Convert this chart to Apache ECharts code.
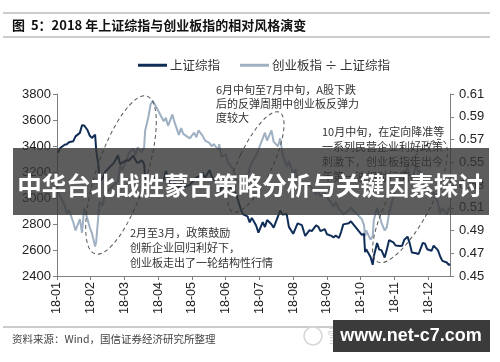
<!DOCTYPE html>
<html>
<head>
<meta charset="utf-8">
<script src="https://cdn.jsdelivr.net/npm/echarts@6/dist/echarts.min.js"></script>
<style>
html,body{margin:0;padding:0;background:#fff;}
#c{width:500px;height:362px;}
</style>
</head>
<body>
<div id="c"></div>
<script>
// ---- data (2018) ----
var dates = [
 '01-02','01-04','01-08','01-10','01-12','01-16','01-18','01-22','01-24','01-26','01-29','01-31',
 '02-02','02-05','02-06','02-07','02-08','02-09','02-12','02-14','02-22','02-26','02-28',
 '03-02','03-06','03-08','03-12','03-14','03-16','03-20','03-22','03-23','03-26','03-28','03-30',
 '04-03','04-09','04-11','04-13','04-17','04-19','04-23','04-25','04-27',
 '05-03','05-07','05-09','05-11','05-15','05-17','05-21','05-23','05-25','05-29','05-30',
 '06-01','06-05','06-07','06-11','06-13','06-15','06-19','06-21','06-25','06-27','06-29',
 '07-03','07-05','07-09','07-11','07-13','07-17','07-19','07-23','07-25','07-27','07-31',
 '08-02','08-06','08-08','08-10','08-14','08-16','08-17','08-21','08-23','08-27','08-29','08-31',
 '09-04','09-06','09-10','09-12','09-14','09-17','09-19','09-21','09-26','09-28',
 '10-08','10-10','10-11','10-12','10-16','10-18','10-19','10-22','10-24','10-26','10-29','10-31',
 '11-02','11-06','11-08','11-12','11-14','11-16','11-19','11-21','11-23','11-27','11-29','11-30',
 '12-03','12-05','12-07','12-11','12-13','12-17','12-19','12-21','12-25','12-27','12-28'
];
var shIndex = [
 3349,3385,3410,3414,3429,3437,3474,3501,3559,3558,3523,3481,
 3462,3487,3370,3309,3262,3129,3154,3199,3268,3329,3259,
 3273,3290,3288,3326,3292,3269,3290,3263,3153,3133,3122,3169,
 3137,3138,3208,3159,3067,3117,3069,3118,3082,
 3101,3137,3159,3163,3193,3154,3214,3169,3141,3120,3041,
 3075,3114,3109,3052,3049,3021,2908,2875,2859,2813,2847,
 2786,2733,2815,2777,2831,2798,2772,2859,2903,2873,2876,
 2778,2725,2764,2805,2791,2735,2709,2753,2745,2790,2779,2745,
 2761,2721,2709,2696,2712,2692,2740,2797,2806,2821,
 2716,2725,2583,2606,2546,2486,2550,2654,2603,2599,2542,2603,
 2676,2659,2635,2630,2632,2679,2703,2651,2580,2575,2568,2588,
 2655,2649,2606,2594,2634,2597,2550,2516,2504,2483,2493
];
var ratio = [
 .525,.52,.512,.505,.508,.497,.49,.50,.488,.51,.50,.493,
 .488,.476,.48,.492,.503,.515,.512,.522,.53,.533,.547,
 .543,.552,.558,.562,.556,.563,.559,.563,.578,.59,.601,.604,
 .597,.586,.589,.582,.592,.585,.574,.58,.575,
 .571,.576,.572,.578,.573,.569,.567,.564,.566,.561,.566,
 .555,.557,.55,.545,.54,.535,.53,.527,.535,.545,.55,
 .556,.561,.571,.576,.569,.578,.568,.564,.571,.558,.546,
 .551,.54,.544,.535,.533,.53,.527,.531,.527,.522,.525,.52,
 .523,.519,.514,.511,.515,.509,.507,.504,.508,.51,
 .50,.495,.485,.49,.482,.485,.499,.51,.504,.497,.49,.493,
 .505,.52,.529,.535,.531,.54,.545,.539,.534,.548,.54,.543,
 .535,.529,.524,.519,.524,.514,.505,.51,.504,.51,.508
];
var leftTicks = {min: 2400, max: 3800, interval: 200};
var rightTicks = {min: 0.45, max: 0.61, interval: 0.02};
var seriesNames = ['上证综指', '创业板指 ÷ 上证综指'];

// ---- helpers ----
var DAY = 86400000, BASE = Date.UTC(2018, 0, 1);
function dayOf(s) {
  var p = s.split('-');
  return (Date.UTC(2018, +p[0] - 1, +p[1]) - BASE) / DAY;
}
var shData = dates.map(function (d, i) { return [dayOf(d), shIndex[i]]; });
var rtData = dates.map(function (d, i) { return [dayOf(d), ratio[i]]; });

var CJK = '"Noto Sans CJK SC", sans-serif';
var AX = '#808080';

var chart = echarts.init(document.getElementById('c'), null, {renderer: 'canvas'});
chart.setOption({
  animation: false,
  backgroundColor: '#fff',
  grid: {left: 57, right: 50, top: 94, bottom: 86},
  legend: {
    left: 133, top: 54, itemWidth: 29, itemHeight: 3, itemGap: 20,
    icon: 'rect',
    data: seriesNames,
    textStyle: {fontSize: 12.5, color: '#333', fontFamily: CJK, padding: [0, 0, 0, -2]}
  },
  xAxis: {
    type: 'value', min: 0, max: 361, interval: 31,
    axisLine: {show: true, lineStyle: {color: AX}},
    axisTick: {show: true, length: 4, lineStyle: {color: AX}},
    splitLine: {show: false},
    axisLabel: {
      rotate: 90, margin: 6, fontSize: 12.5, color: '#222', fontFamily: 'Arial',
      showMaxLabel: false,
      formatter: function (v) {
        var d = new Date(BASE + v * DAY);
        var m = d.getUTCMonth() + 1;
        return '18-' + (m < 10 ? '0' + m : m);
      }
    }
  },
  yAxis: [{
    type: 'value', min: leftTicks.min, max: leftTicks.max, interval: leftTicks.interval,
    axisLine: {show: true, lineStyle: {color: AX}},
    axisTick: {show: true, length: 4, lineStyle: {color: AX}},
    splitLine: {show: false},
    axisLabel: {fontSize: 13, color: '#222', fontFamily: 'Arial', margin: 6,
      formatter: function (v) { return String(Math.round(v)); }}
  }, {
    type: 'value', position: 'right',
    min: rightTicks.min, max: rightTicks.max, interval: rightTicks.interval,
    axisLine: {show: true, lineStyle: {color: AX}},
    axisTick: {show: true, length: 4, lineStyle: {color: AX}},
    splitLine: {show: false},
    axisLabel: {fontSize: 13, color: '#222', fontFamily: 'Arial', margin: 9,
      formatter: function (v) { return v.toFixed(2); }}
  }],
  series: [{
    name: seriesNames[0], type: 'line', yAxisIndex: 0, data: shData,
    showSymbol: false, z: 3,
    lineStyle: {color: '#0f2d57', width: 2}, itemStyle: {color: '#0f2d57'}
  }, {
    name: seriesNames[1], type: 'line', yAxisIndex: 1, data: rtData,
    showSymbol: false, z: 2,
    lineStyle: {color: '#9fb0c2', width: 2}, itemStyle: {color: '#9fb0c2'}
  }],
  graphic: [
    {type: 'line', shape: {x1: 3, y1: 13, x2: 490, y2: 13}, style: {stroke: '#9a9a9a', lineWidth: 1}},
    {type: 'line', shape: {x1: 3, y1: 37, x2: 490, y2: 37}, style: {stroke: '#9a9a9a', lineWidth: 1}},
    {type: 'line', shape: {x1: 3, y1: 327, x2: 490, y2: 327}, style: {stroke: '#9a9a9a', lineWidth: 1}},
    {type: 'text', x: 12, y: 25, style: {text: '图  5：2018 年上证综指与创业板指的相对风格演变',
      font: 'bold 13px ' + CJK, fill: '#111', textVerticalAlign: 'middle'}},
    {type: 'text', x: 12, y: 339, style: {text: '资料来源：Wind，国信证券经济研究所整理',
      font: '10.5px ' + CJK, fill: '#444', textVerticalAlign: 'middle'}},
    // dashed ellipses
    {type: 'ellipse', x: 121, y: 175, rotation: -0.32, shape: {cx: 0, cy: 0, rx: 25, ry: 83},
      style: {fill: 'none', stroke: '#555', lineWidth: 1, lineDash: [4, 3]}, z: 5},
    {type: 'ellipse', x: 256, y: 162, rotation: -0.44, shape: {cx: 0, cy: 0, rx: 17, ry: 55},
      style: {fill: 'none', stroke: '#555', lineWidth: 1, lineDash: [4, 3]}, z: 5},
    {type: 'ellipse', x: 410, y: 201, rotation: -0.49, shape: {cx: 0, cy: 0, rx: 21, ry: 69},
      style: {fill: 'none', stroke: '#555', lineWidth: 1, lineDash: [4, 3]}, z: 5},
    // annotations
    {type: 'text', x: 216, y: 83, z: 6, style: {text: '6月中旬至7月中旬，A股下跌\n后的反弹周期中创业板反弹力\n度较大',
      font: '11px ' + CJK, fill: '#333', lineHeight: 14}},
    {type: 'text', x: 322, y: 124.5, z: 6, style: {text: '10月中旬，在定向降准等\n一系列民营企业利好政策\n刺激下，创业板指走出今\n年第一波相对行情',
      font: '11px ' + CJK, fill: '#333', lineHeight: 15}},
    {type: 'text', x: 130, y: 225.5, z: 6, style: {text: '2月至3月，政策鼓励\n创新企业回归利好下，\n创业板走出了一轮结构性行情',
      font: '11px ' + CJK, fill: '#333', lineHeight: 15}},
    // overlay banner
    {type: 'rect', z: 20, shape: {x: 13, y: 148, width: 476, height: 67}, style: {fill: 'rgba(52,52,52,0.8)'}},
    {type: 'text', z: 21, x: 250, y: 186, style: {text: '中华台北战胜蒙古策略分析与关键因素探讨',
      font: 'bold 24.5px ' + CJK, fill: '#fff', textAlign: 'center', textVerticalAlign: 'middle'}},
    // bottom-right watermark
    {type: 'circle', z: 18, shape: {cx: 313, cy: 336, r: 9}, style: {fill: 'none', stroke: '#d6d6d6', lineWidth: 1.5}},
    {type: 'text', z: 18, x: 327, y: 336, style: {text: '雪球：国信策略研究', font: '18px ' + CJK, fill: '#d6d6d6', textVerticalAlign: 'middle'}},
    {type: 'rect', z: 20, shape: {x: 333, y: 320, width: 157, height: 32}, style: {fill: '#3b3b3b'}},
    {type: 'text', z: 21, x: 411, y: 336, style: {text: 'www.net-c7.com',
      font: 'bold 18px Arial', fill: '#fff', textAlign: 'center', textVerticalAlign: 'middle'}}
  ]
});
</script>
</body>
</html>
